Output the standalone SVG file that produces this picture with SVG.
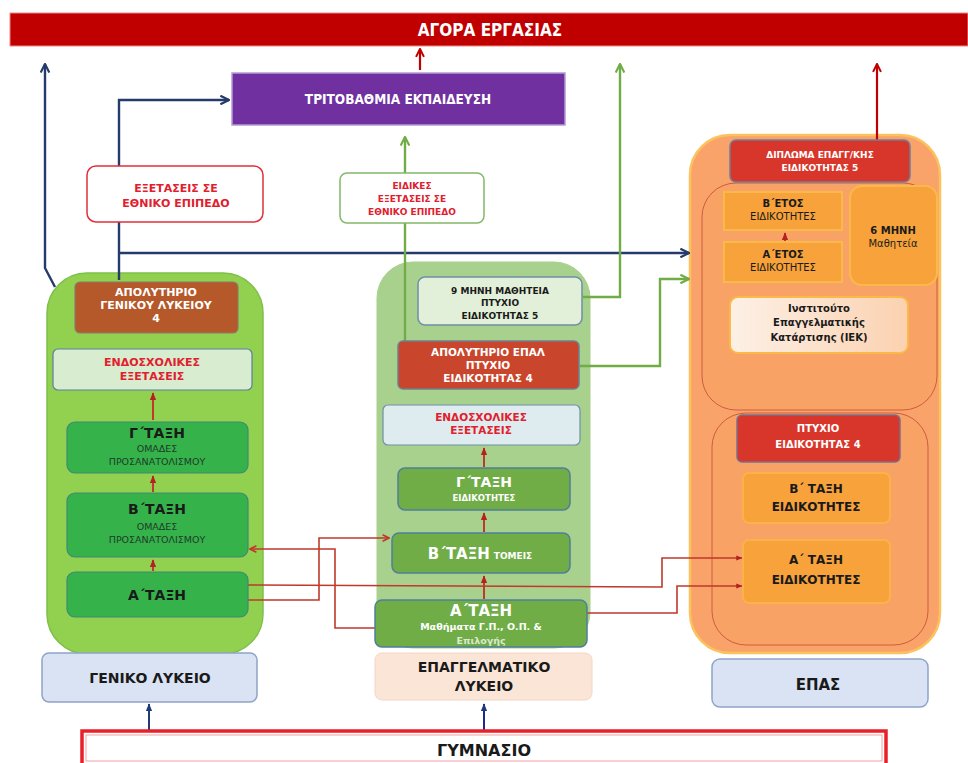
<svg xmlns="http://www.w3.org/2000/svg" width="968" height="763" viewBox="0 0 968 763">
<style>
text{font-family:"DejaVu Sans","Verdana","Liberation Sans",sans-serif;text-anchor:middle;font-weight:bold}
.w{fill:#ffffff}
.r{fill:#e0202e}
.d{fill:#1a1a1a}
.g{fill:#1e3b2a;font-weight:normal}
.n{font-weight:normal}
.cond{font-family:"DejaVu Sans Condensed","DejaVu Sans",sans-serif}
.c-red{stroke:#c0392b;stroke-width:1.6;fill:none}
.c-navy{stroke:#243b6b;stroke-width:2.4;fill:none}
.c-green{stroke:#70ad47;stroke-width:2.4;fill:none}
.c-dred{stroke:#c00000;stroke-width:2.2;fill:none}
</style>
<defs>
<marker id="aR" viewBox="0 0 10 10" refX="9" refY="5" markerWidth="5" markerHeight="5" orient="auto-start-reverse"><path d="M1,1 L9,5 L1,9" fill="none" stroke="#c0392b" stroke-width="2"/></marker>
<marker id="aRf" viewBox="0 0 10 10" refX="9" refY="5" markerWidth="4" markerHeight="4" orient="auto"><path d="M0,1 L10,5 L0,9 Z" fill="#b52020"/></marker>
<marker id="aN" viewBox="0 0 10 10" refX="9" refY="5" markerWidth="4.5" markerHeight="4.5" orient="auto"><path d="M1,1 L9,5 L1,9" fill="none" stroke="#243b6b" stroke-width="2"/></marker>
<marker id="aNs" viewBox="0 0 10 10" refX="9" refY="5" markerWidth="4" markerHeight="4" orient="auto"><path d="M0,1 L10,5 L0,9 Z" fill="#1f3a7a"/></marker>
<marker id="aG" viewBox="0 0 10 10" refX="9" refY="5" markerWidth="4.5" markerHeight="4.5" orient="auto"><path d="M1,1 L9,5 L1,9" fill="none" stroke="#70ad47" stroke-width="2"/></marker>
<marker id="aD" viewBox="0 0 10 10" refX="9" refY="5" markerWidth="4.5" markerHeight="4.5" orient="auto"><path d="M1,1 L9,5 L1,9" fill="none" stroke="#c00000" stroke-width="2"/></marker>
<linearGradient id="iek" x1="0" y1="0" x2="1" y2="0"><stop offset="0" stop-color="#fdf0e6"/><stop offset="1" stop-color="#fbd2b0"/></linearGradient>
</defs>

<rect x="0" y="0" width="968" height="763" fill="#ffffff"/>

<!-- containers -->
<g id="container-genikou">
<rect x="47" y="273" width="216" height="381" rx="40" fill="#92d050" stroke="#7fbf48" stroke-width="1.5"/>
</g>
<g id="container-epal">
<rect x="377" y="262" width="213" height="386" rx="36" fill="#a9d18e" stroke="#a9d18e"/>
</g>
<g id="container-epas">
<rect x="690" y="135" width="250" height="518" rx="40" fill="#f9a36a" stroke="#fbc25e" stroke-width="2.5"/>
<rect x="702" y="183" width="235" height="227" rx="34" fill="#f8a265" stroke="#cf5c3e" stroke-width="1"/>
<rect x="712" y="413" width="216" height="232" rx="34" fill="#f8a265" stroke="#cf5c3e" stroke-width="1"/>
</g>

<!-- connectors -->
<g id="connectors">
<path class="c-dred" d="M420,70 L420,49" marker-end="url(#aD)"/>
<path class="c-dred" d="M877,140 L877,64" marker-end="url(#aD)"/>
<path class="c-navy" d="M55,287 L45,268 L45,64" marker-end="url(#aN)"/>
<path class="c-navy" d="M119,280 L119,100 L229,100" marker-end="url(#aN)"/>
<path class="c-navy" d="M119,253 L689,253" marker-end="url(#aN)"/>
<path class="c-green" d="M405,341 L405,137" marker-end="url(#aG)"/>
<path class="c-green" d="M583,297 L620,297 L620,64" marker-end="url(#aG)"/>
<path class="c-green" d="M580,366 L660,366 L660,279 L689,279" marker-end="url(#aG)"/>
<path class="c-navy" d="M149,730 L149,704" marker-end="url(#aNs)" style="stroke-width:2"/>
<path class="c-navy" d="M484,730 L484,704" marker-end="url(#aNs)" style="stroke:#1f2a8a;stroke-width:2"/>
<!-- internal up arrows -->
<path class="c-red" d="M153,420 L153,393" marker-end="url(#aRf)" style="stroke-width:2"/>
<path class="c-red" d="M153,492 L153,476" marker-end="url(#aRf)" style="stroke-width:2"/>
<path class="c-red" d="M153,571 L153,560" marker-end="url(#aRf)" style="stroke-width:2"/>
<path class="c-red" d="M484,467 L484,448" marker-end="url(#aRf)" style="stroke-width:2"/>
<path class="c-red" d="M484,532 L484,513" marker-end="url(#aRf)" style="stroke-width:2"/>
<path class="c-red" d="M484,599 L484,576" marker-end="url(#aRf)" style="stroke-width:2"/>
<path class="c-red" d="M785,241 L785,233" marker-end="url(#aRf)" style="stroke-width:2"/>
<!-- cross connectors -->
<path class="c-red" d="M248,600 L319,600 L319,538 L389,538" marker-end="url(#aR)"/>
<path class="c-red" d="M382,628 L335,628 L335,549 L250,549" marker-end="url(#aR)"/>
<path class="c-red" d="M248,585 L662,587 L662,558 L742,558" marker-end="url(#aRf)"/>
<path class="c-red" d="M584,613 L677,613 L677,586 L742,586" marker-end="url(#aRf)"/>
</g>

<!-- top -->
<g id="agora">
<rect x="10" y="13" width="958" height="33" fill="#c00000" stroke="#e88" stroke-width="1"/>
<text x="490" y="36" class="w cond" font-size="17">ΑΓΟΡΑ ΕΡΓΑΣΙΑΣ</text>
</g>
<g id="tritovathmia">
<rect x="232" y="73" width="333" height="52" fill="#7030a0" stroke="#b59ad6" stroke-width="1.5"/>
<text x="398" y="104" class="w cond" font-size="13.5">ΤΡΙΤΟΒΑΘΜΙΑ ΕΚΠΑΙΔΕΥΣΗ</text>
</g>
<g id="exetaseis-ethniko">
<rect x="87" y="166" width="176" height="56" rx="9" fill="#ffffff" stroke="#e0303a" stroke-width="1.5"/>
<text x="176" y="192" class="r" font-size="11">ΕΞΕΤΑΣΕΙΣ ΣΕ</text>
<text x="176" y="207" class="r" font-size="11">ΕΘΝΙΚΟ ΕΠΙΠΕΔΟ</text>
</g>
<g id="eidikes-exetaseis">
<rect x="340" y="173" width="144" height="50" rx="7" fill="#ffffff" stroke="#82b86a" stroke-width="1.5"/>
<text x="412" y="189" class="r" font-size="9">ΕΙΔΙΚΕΣ</text>
<text x="412" y="202" class="r" font-size="9">ΕΞΕΤΑΣΕΙΣ ΣΕ</text>
<text x="412" y="215" class="r" font-size="9">ΕΘΝΙΚΟ ΕΠΙΠΕΔΟ</text>
</g>

<!-- Geniko Lykeio column -->
<g id="apolytirio-genikou">
<rect x="75" y="282" width="163" height="51" rx="5" fill="#b5582a" stroke="#8c7a6a" stroke-width="1.2"/>
<text x="156" y="296" class="w" font-size="11">ΑΠΟΛΥΤΗΡΙΟ</text>
<text x="156" y="309" class="w" font-size="11">ΓΕΝΙΚΟΥ ΛΥΚΕΙΟΥ</text>
<text x="156" y="322" class="w" font-size="11">4</text>
</g>
<g id="endosxolikes-genikou">
<rect x="53" y="349" width="199" height="41" rx="5" fill="#d8ecd0" stroke="#5b7fa0" stroke-width="1.2"/>
<text x="152" y="366" class="r" font-size="11">ΕΝΔΟΣΧΟΛΙΚΕΣ</text>
<text x="152" y="380" class="r" font-size="11">ΕΞΕΤΑΣΕΙΣ</text>
</g>
<g id="g-taxi-genikou">
<rect x="67" y="422" width="181" height="51" rx="8" fill="#35b34a" stroke="#3f8a74" stroke-width="1.2"/>
<text x="157" y="438" class="d" font-size="14">Γ΄ΤΑΞΗ</text>
<text x="157" y="452" class="g" font-size="9.5">ΟΜΑΔΕΣ</text>
<text x="157" y="465" class="g" font-size="9.5">ΠΡΟΣΑΝΑΤΟΛΙΣΜΟΥ</text>
</g>
<g id="b-taxi-genikou">
<rect x="67" y="493" width="181" height="64" rx="8" fill="#35b34a" stroke="#3f8a74" stroke-width="1.2"/>
<text x="157" y="514" class="d" font-size="14">Β΄ΤΑΞΗ</text>
<text x="157" y="530" class="g" font-size="9.5">ΟΜΑΔΕΣ</text>
<text x="157" y="543" class="g" font-size="9.5">ΠΡΟΣΑΝΑΤΟΛΙΣΜΟΥ</text>
</g>
<g id="a-taxi-genikou">
<rect x="67" y="572" width="181" height="45" rx="8" fill="#35b34a" stroke="#3f8a74" stroke-width="1.2"/>
<text x="157" y="600" class="d" font-size="14">Α΄ΤΑΞΗ</text>
</g>
<g id="geniko-lykeio">
<rect x="42" y="653" width="215" height="49" rx="7" fill="#dae3f3" stroke="#8fa4c8" stroke-width="1.5"/>
<text x="150" y="683" class="d" font-size="14">ΓΕΝΙΚΟ ΛΥΚΕΙΟ</text>
</g>

<!-- EPAL column -->
<g id="enniamini">
<rect x="418" y="277" width="164" height="48" rx="7" fill="#e2efd9" stroke="#6f8fa8" stroke-width="1.5"/>
<text x="500" y="294" class="d" font-size="9">9 ΜΗΝΗ ΜΑΘΗΤΕΙΑ</text>
<text x="500" y="306" class="d" font-size="9">ΠΤΥΧΙΟ</text>
<text x="500" y="319" class="d" font-size="9">ΕΙΔΙΚΟΤΗΤΑΣ 5</text>
</g>
<g id="apolytirio-epal">
<rect x="398" y="341" width="181" height="48" rx="5" fill="#c9452c" stroke="#6f7f90" stroke-width="1.5"/>
<text x="488" y="356" class="w" font-size="10.5">ΑΠΟΛΥΤΗΡΙΟ ΕΠΑΛ</text>
<text x="488" y="369" class="w" font-size="10.5">ΠΤΥΧΙΟ</text>
<text x="488" y="382" class="w" font-size="10.5">ΕΙΔΙΚΟΤΗΤΑΣ 4</text>
</g>
<g id="endosxolikes-epal">
<rect x="383" y="405" width="197" height="40" rx="5" fill="#deecef" stroke="#6f8fa8" stroke-width="1.2"/>
<text x="481" y="421" class="r" font-size="10.5">ΕΝΔΟΣΧΟΛΙΚΕΣ</text>
<text x="481" y="434" class="r" font-size="10.5">ΕΞΕΤΑΣΕΙΣ</text>
</g>
<g id="g-taxi-epal">
<rect x="398" y="468" width="172" height="42" rx="7" fill="#70ad47" stroke="#4f7f9a" stroke-width="1.5"/>
<text x="484" y="487" class="w" font-size="14">Γ΄ΤΑΞΗ</text>
<text x="484" y="501" class="w" font-size="8.5">ΕΙΔΙΚΟΤΗΤΕΣ</text>
</g>
<g id="b-taxi-epal">
<rect x="392" y="533" width="178" height="40" rx="7" fill="#70ad47" stroke="#4f7f9a" stroke-width="1.5"/>
<text x="480" y="559" class="w"><tspan font-size="15">Β΄ΤΑΞΗ</tspan><tspan font-size="9" dx="4">ΤΟΜΕΙΣ</tspan></text>
</g>
<g id="a-taxi-epal">
<rect x="375" y="600" width="212" height="47" rx="7" fill="#70ad47" stroke="#4f7f9a" stroke-width="1.5"/>
<text x="481" y="616" class="w" font-size="15">Α΄ΤΑΞΗ</text>
<text x="481" y="630" class="w" font-size="9.5">Μαθήματα Γ.Π., Ο.Π. &amp;</text>
<text x="481" y="644" class="w" font-size="9.5" fill-opacity="0.75">Επιλογής</text>
</g>
<g id="epaggelmatiko-lykeio">
<rect x="375" y="653" width="217" height="47" rx="7" fill="#fbe5d6" stroke="#f4d6c4" stroke-width="1"/>
<text x="484" y="672" class="d" font-size="14">ΕΠΑΓΓΕΛΜΑΤΙΚΟ</text>
<text x="484" y="691" class="d" font-size="14">ΛΥΚΕΙΟ</text>
</g>

<!-- EPAS / IEK column -->
<g id="diploma">
<rect x="730" y="140" width="180" height="42" rx="6" fill="#d9362b" stroke="#6f7f9a" stroke-width="1.5"/>
<text x="820" y="158" class="w" font-size="9">ΔΙΠΛΩΜΑ ΕΠΑΓΓ/ΚΗΣ</text>
<text x="820" y="171" class="w" font-size="9">ΕΙΔΙΚΟΤΗΤΑΣ 5</text>
</g>
<g id="b-etos">
<rect x="724" y="192" width="118" height="38" fill="#f7a23a" stroke="#fbb94a" stroke-width="2"/>
<text x="783" y="207" class="d" font-size="10">Β΄ΕΤΟΣ</text>
<text x="783" y="220" class="d n" font-size="10">ΕΙΔΙΚΟΤΗΤΕΣ</text>
</g>
<g id="a-etos">
<rect x="724" y="242" width="118" height="40" fill="#f7a23a" stroke="#fbb94a" stroke-width="2"/>
<text x="783" y="258" class="d" font-size="10">Α΄ΕΤΟΣ</text>
<text x="783" y="271" class="d n" font-size="10">ΕΙΔΙΚΟΤΗΤΕΣ</text>
</g>
<g id="examini">
<rect x="850" y="186" width="87" height="99" rx="12" fill="#f7a23a" stroke="#fbb94a" stroke-width="2"/>
<text x="893" y="234" class="d" font-size="10">6 ΜΗΝΗ</text>
<text x="893" y="247" class="d n" font-size="10">Μαθητεία</text>
</g>
<g id="iek">
<rect x="730" y="297" width="178" height="56" rx="8" fill="url(#iek)" stroke="#fbb94a" stroke-width="2"/>
<text x="819" y="312" class="d" font-size="10">Ινστιτούτο</text>
<text x="819" y="326" class="d" font-size="10">Επαγγελματικής</text>
<text x="819" y="341" class="d" font-size="10">Κατάρτισης (ΙΕΚ)</text>
</g>
<g id="ptyxio-4">
<rect x="737" y="415" width="163" height="47" rx="5" fill="#d9362b" stroke="#7a6f8a" stroke-width="1.5"/>
<text x="818" y="432" class="w" font-size="10">ΠΤΥΧΙΟ</text>
<text x="818" y="448" class="w" font-size="10">ΕΙΔΙΚΟΤΗΤΑΣ 4</text>
</g>
<g id="b-taxi-epas">
<rect x="743" y="473" width="147" height="50" rx="6" fill="#f7a23a" stroke="#fbb24a" stroke-width="2"/>
<text x="816" y="493" class="d" font-size="12">Β΄ ΤΑΞΗ</text>
<text x="816" y="511" class="d" font-size="12">ΕΙΔΙΚΟΤΗΤΕΣ</text>
</g>
<g id="a-taxi-epas">
<rect x="743" y="540" width="147" height="63" rx="6" fill="#f7a23a" stroke="#fbb24a" stroke-width="2"/>
<text x="816" y="564" class="d" font-size="12">Α΄ ΤΑΞΗ</text>
<text x="816" y="584" class="d" font-size="12">ΕΙΔΙΚΟΤΗΤΕΣ</text>
</g>
<g id="epas">
<rect x="712" y="659" width="216" height="48" rx="8" fill="#dae3f3" stroke="#8fa4c8" stroke-width="1.5"/>
<text x="818" y="690" class="d" font-size="15">ΕΠΑΣ</text>
</g>

<g id="gymnasio">
<rect x="82" y="731" width="804" height="34" fill="#ffffff" stroke="#e8202a" stroke-width="3.5"/>
<rect x="86" y="735" width="796" height="26" fill="none" stroke="#f3a0a0" stroke-width="1"/>
<text x="484" y="756" class="d" font-size="16">ΓΥΜΝΑΣΙΟ</text>
</g>
</svg>
